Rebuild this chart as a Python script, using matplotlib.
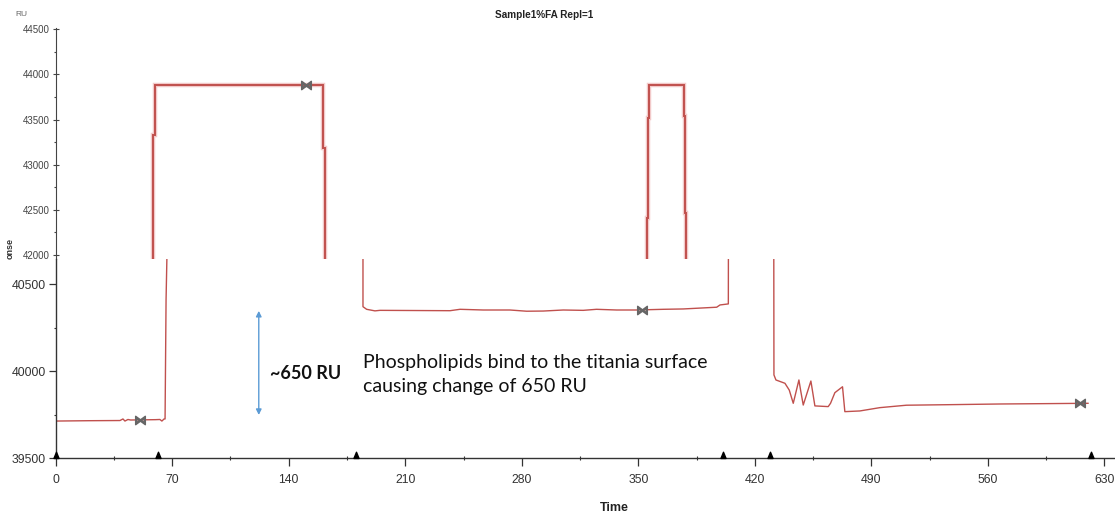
import numpy as np
import matplotlib
matplotlib.use('Agg')
import matplotlib.pyplot as plt
from matplotlib.path import Path
from matplotlib.ticker import MultipleLocator

# --- данные: верхняя панель (увеличенный фрагмент 42000-44500 RU) ---
top_t = [58.4, 58.4, 59.6, 59.6, 160.6, 160.6, 161.8, 161.8]
top_ru = [41900, 43327, 43327, 43880, 43880, 43184, 43184, 41900]
top2_t = [355.2, 355.2, 355.8, 355.8, 356.4, 356.4, 377.4, 377.4, 378.0, 378.0, 378.6, 378.6]
top2_ru = [41900, 42409, 42409, 43515, 43515, 43880, 43880, 43538, 43538, 42465, 42465, 41900]

# --- данные: нижняя панель (39500-40650 RU) ---
bot_t = [0, 20, 38.6, 40.4, 41.6, 43.4, 45, 60, 62.6, 63.8, 65.1, 65.7, 66.3, 66.8, 67.5,
         184.6, 184.6, 186.8, 191.8, 194.8, 236.9, 242.9, 256.9, 272.9, 282.9, 292.9,
         304.9, 316.9, 324.9, 337.0, 349.0, 365.0, 377.0, 397.1, 399.1, 404.1, 404.6,
         431.0, 431.5, 432.7, 438.1, 440.7, 443.1, 446.5, 447.5, 449.1, 453.7, 456.1,
         464.1, 465.5, 468.1, 472.7, 474.1, 483.1, 495.1, 511.1, 536.2, 567.3, 620.2]
bot_ru = [39714, 39716, 39717, 39726, 39714, 39723, 39720, 39722, 39723, 39714, 39726, 39726,
          40410, 40650, 43880,
          43880, 40371, 40356, 40347, 40350, 40348, 40356, 40352, 40352, 40345, 40346,
          40352, 40350, 40356, 40352, 40352, 40356, 40358, 40368, 40381, 40387, 43880,
          43880, 39979, 39950, 39931, 39892, 39816, 39950, 39892, 39806, 39944, 39801,
          39797, 39816, 39877, 39911, 39768, 39772, 39791, 39805, 39808, 39812, 39816]

# маркеры отчётных точек (⋈) и инжекций (▲)
report_top_t = [150.4]
report_top_ru = [43880]
report_bot_t = [50.6, 352.0, 615.3]
report_bot_ru = [39720, 40352, 39818]
inject_t = [0, 61.4, 180.6, 400.8, 429.4, 622.0]

x_ticks = np.arange(0, 631, 70)
top_yticks = [42000, 42500, 43000, 43500, 44000, 44500]
bot_yticks = [39500, 40000, 40500]

RED = '#c0504d'
ARIAL = ['Liberation Sans', 'DejaVu Sans']

fig = plt.figure(figsize=(11.15, 5.17), dpi=100)
XMAX = 636.4

# --- верхняя панель ---
ax_top = fig.add_axes([0.04996, 0.49903, 0.95004, 0.4468])
ax_top.plot(top_t, top_ru, color='#f2c9c9', lw=3.2, solid_joinstyle='miter')
ax_top.plot(top2_t, top2_ru, color='#f2c9c9', lw=3.2, solid_joinstyle='miter')
ax_top.plot(top_t, top_ru, color=RED, lw=1.4, solid_joinstyle='miter')
ax_top.plot(top2_t, top2_ru, color=RED, lw=1.4, solid_joinstyle='miter')
ax_top.plot(report_top_t, report_top_ru, ls='none', marker=r'$\bowtie$', ms=7, color='#666666')
ax_top.set_xlim(0, XMAX)
ax_top.set_ylim(41956, 44515)
for s in ['top', 'right', 'bottom']:
    ax_top.spines[s].set_visible(False)
ax_top.spines['left'].set_color('#444444')
ax_top.set_xticks([])
ax_top.set_yticks(top_yticks)
ax_top.yaxis.set_minor_locator(MultipleLocator(250))
ax_top.tick_params(axis='y', which='major', direction='inout', length=5, width=0.8,
                   labelsize=7, colors='#444444', pad=1.5)
ax_top.tick_params(axis='y', which='minor', direction='out', length=1.5, width=0.8, colors='#444444')
for lab in ax_top.get_yticklabels():
    lab.set_family(ARIAL)
ax_top.patch.set_alpha(0)

# --- нижняя панель ---
ax = fig.add_axes([0.04996, 0.11354, 0.95004, 0.38549])
ax.plot(bot_t, bot_ru, color=RED, lw=1.0)
ax.plot(report_bot_t, report_bot_ru, ls='none', marker=r'$\bowtie$', ms=7, color='#666666')

tri = Path([(-0.45, 0), (0.45, 0), (0, 1.1), (-0.45, 0)],
           [Path.MOVETO, Path.LINETO, Path.LINETO, Path.CLOSEPOLY])
ax.plot(inject_t, [39500] * len(inject_t), ls='none', marker=tri, ms=9,
        color='black', clip_on=False, zorder=5)

ax.set_xlim(0, XMAX)
ax.set_ylim(39500, 40645)
ax.spines['top'].set_visible(False)
ax.spines['right'].set_visible(False)
for s in ['left', 'bottom']:
    ax.spines[s].set_color('#333333')
    ax.spines[s].set_linewidth(1.0)
ax.set_xticks(x_ticks)
ax.xaxis.set_minor_locator(MultipleLocator(35))
ax.set_yticks(bot_yticks)
ax.yaxis.set_minor_locator(MultipleLocator(250))
ax.tick_params(axis='x', which='major', direction='out', length=6, width=0.9,
               labelsize=8.8, colors='#333333', pad=5)
ax.tick_params(axis='x', which='minor', direction='inout', length=3, width=0.8, colors='#333333')
ax.tick_params(axis='y', which='major', direction='out', length=5, width=0.9,
               labelsize=8.8, colors='#333333', pad=2)
ax.tick_params(axis='y', which='minor', direction='out', length=1.5, width=0.8, colors='#333333')
for lab in ax.get_xticklabels() + ax.get_yticklabels():
    lab.set_family(ARIAL)
ax.patch.set_alpha(0)

# аннотация
ax.annotate('', xy=(122, 40347), xytext=(122, 39749),
            arrowprops=dict(arrowstyle='<|-|>', color='#5b9bd5', lw=1.0, mutation_scale=8,
                            shrinkA=0, shrinkB=0))
ax.text(128.9, 39990, '~650 RU', fontsize=13, fontweight='bold', family=['Lato', 'DejaVu Sans'],
        va='center', ha='left', color='#111111')
ax.text(184.6, 39983, 'Phospholipids bind to the titania surface\ncausing change of 650 RU',
        fontsize=14, family=['Lato', 'DejaVu Sans'], va='center', ha='left',
        linespacing=1.5, color='#111111')

# подписи
fig.text(544 / 1115, 1 - 15 / 517, 'Sample1%FA Repl=1', fontsize=7.2, fontweight='bold',
         family=ARIAL, ha='center', va='center', color='#222222')
fig.text(21 / 1115, 1 - 15 / 517, 'RU', fontsize=6, family=ARIAL,
         ha='center', va='center', color='#666666')
fig.text(10 / 1115, 1 - 259 / 517, 'onse', fontsize=6.5, fontweight='bold', rotation=90,
         family=ARIAL, ha='center', va='bottom', color='#333333')
fig.text(614.7 / 1115, 1 - 508 / 517, 'Time', fontsize=9, fontweight='bold',
         family=ARIAL, ha='center', va='center', color='#222222')

fig.savefig('out.png', dpi=100)
